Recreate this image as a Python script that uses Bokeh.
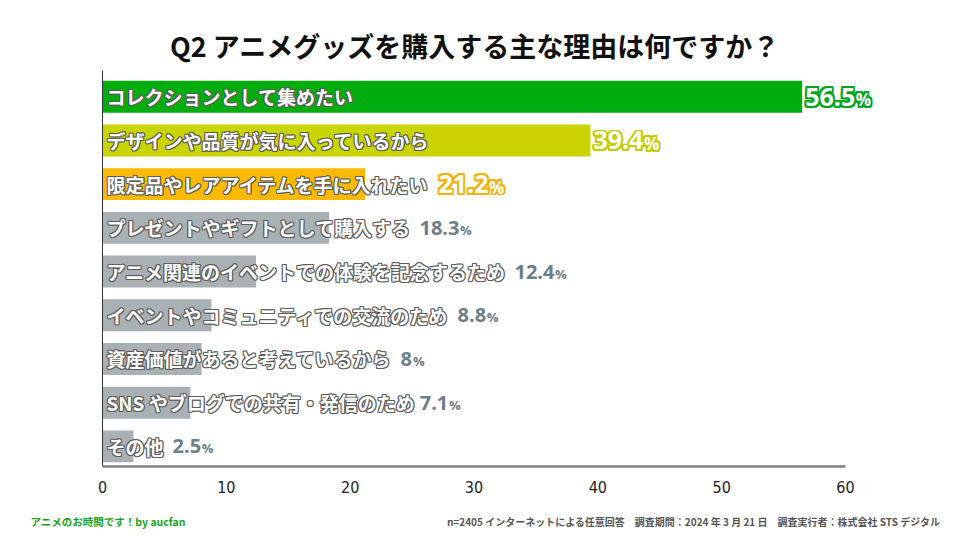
from bokeh.plotting import figure
from bokeh.layouts import column
from bokeh.models import ColumnDataSource, Range1d, FixedTicker, Span
from bokeh.core.properties import value
from bokeh.embed import file_html
from bokeh.resources import INLINE

# survey data, top to bottom
reasons = [
    "コレクションとして集めたい",
    "デザインや品質が気に入っているから",
    "限定品やレアアイテムを手に入れたい",
    "プレゼントやギフトとして購入する",
    "アニメ関連のイベントでの体験を記念するため",
    "イベントやコミュニティでの交流のため",
    "資産価値があると考えているから",
    "SNS やブログでの共有・発信のため",
    "その他",
]
shares = [56.5, 39.4, 21.2, 18.3, 12.4, 8.8, 8.0, 7.1, 2.5]
share_text = ["56.5", "39.4", "21.2", "18.3", "12.4", "8.8", "8", "7.1", "2.5"]
x_ticks = [0, 10, 20, 30, 40, 50, 60]

title = "Q2  アニメグッズを購入する主な理由は何ですか？"
footer_left = "アニメのお時間です！by aucfan"
footer_right = ("n=2405 インターネットによる任意回答　調査期間：2024 年 3 月 21 日　"
                "調査実行者：株式会社 STS デジタル")

# styles
bar_colors = ["#00ad0e", "#c9d400", "#fbba00"] + ["#aab1b4"] * 6
highlight = ["#00a51d", "#c2cc00", "#f3b20a"]
gray_value = "#6b7e89"
JP = "Noto Sans CJK JP"
NUM = "Open Sans"
TICKFONT = "'Liberation Sans Narrow', 'DejaVu Sans Condensed', Roboto, sans-serif"

W, H, FH = 955, 506, 30
ORIGIN = 102                    # pixel position of x = 0
TOP, BOTTOM = 70, 40
XMAX = 60
PPU = (845 - ORIGIN) / XMAX     # pixels per x unit

n = len(reasons)
ys = [n - 1 - i for i in range(n)]


def text_px(s, fs):
    w = 0.0
    for c in s:
        if ord(c) > 0x2000:
            w += fs
        elif c == " ":
            w += 0.3 * fs
        elif c == ".":
            w += 0.27 * fs
        else:
            w += 0.57 * fs
    return w


cat_fs = 19
big_fs, big_pct = 25, 17
small_fs, small_pct = 20, 13

label_x = []
num_w = []
for i in range(n):
    end_text = (4 + text_px(reasons[i], cat_fs)) / PPU
    if shares[i] >= end_text:
        lx = shares[i] + 3 / PPU
    else:
        lx = end_text + 9 / PPU
    label_x.append(lx)
    fs = big_fs if i < 3 else small_fs
    num_w.append(text_px(share_text[i], fs) + 1)

src = ColumnDataSource(dict(y=ys, right=shares, reason=reasons, color=bar_colors,
                            zero=[0] * n))

# frame spans the full width so that the footer strip lines up with it
p1 = figure(width=W, height=H,
            x_range=Range1d(-ORIGIN / PPU, (W - ORIGIN) / PPU),
            y_range=Range1d(-0.46, 8.6),
            output_backend="svg", toolbar_location=None,
            min_border_left=0, min_border_right=0,
            min_border_top=TOP, min_border_bottom=BOTTOM)
p1.outline_line_color = None
p1.xgrid.visible = False
p1.ygrid.visible = False
p1.yaxis.visible = False

p1.title.text = title
p1.title.align = "center"
p1.title.text_font = JP
p1.title.text_font_size = "27px"
p1.title.text_font_style = "bold"
p1.title.text_color = "#111111"
p1.title.standoff = 12

p1.xaxis.ticker = FixedTicker(ticks=x_ticks)
p1.xaxis.bounds = (0, XMAX)
p1.xaxis.axis_line_color = "#808080"
p1.xaxis.axis_line_width = 2.5
p1.xaxis.major_tick_line_color = None
p1.xaxis.minor_tick_line_color = None
p1.xaxis.major_label_text_font = TICKFONT
p1.xaxis.major_label_text_font_size = "16px"
p1.xaxis.major_label_text_color = "#222222"
p1.xaxis.major_label_standoff = 8

# vertical axis line at x = 0
p1.add_layout(Span(location=0, dimension="height", line_color="#333333", line_width=1))

p1.hbar(y="y", left=0, right="right", height=0.73, fill_color="color",
        line_color=None, source=src)

# outlined category labels
rings = [(-1, 0), (1, 0), (0, -1), (0, 1), (-1, -1), (1, 1), (-1, 1), (1, -1)]
for dx, dy in rings:
    p1.text(x="zero", y="y", text="reason", source=src, x_offset=4 + dx, y_offset=dy,
            text_font=value(JP), text_font_size=f"{cat_fs}px", text_font_style="bold",
            text_color="#5c5c5c", text_baseline="middle", text_align="left")
p1.text(x="zero", y="y", text="reason", source=src, x_offset=4,
        text_font=value(JP), text_font_size=f"{cat_fs}px", text_font_style="bold",
        text_color="white", text_baseline="middle", text_align="left")

# highlighted values (top three): white with coloured outline
for i in range(3):
    s = ColumnDataSource(dict(x=[label_x[i]], y=[ys[i]], num=[share_text[i]],
                              pct=["%"]))
    for r in (1.0, 1.8):
        for dx, dy in rings:
            p1.text(x="x", y="y", text="num", source=s, x_offset=dx * r, y_offset=dy * r,
                    text_font=value(NUM), text_font_size=f"{big_fs}px",
                    text_font_style="bold", text_color=highlight[i],
                    text_baseline="middle", text_align="left")
            p1.text(x="x", y="y", text="pct", source=s, x_offset=num_w[i] + dx * r,
                    y_offset=3 + dy * r,
                    text_font=value(NUM), text_font_size=f"{big_pct}px",
                    text_font_style="bold", text_color=highlight[i],
                    text_baseline="middle", text_align="left")
    p1.text(x="x", y="y", text="num", source=s,
            text_font=value(NUM), text_font_size=f"{big_fs}px",
            text_font_style="bold", text_color="white",
            text_baseline="middle", text_align="left")
    p1.text(x="x", y="y", text="pct", source=s, x_offset=num_w[i], y_offset=3,
            text_font=value(NUM), text_font_size=f"{big_pct}px",
            text_font_style="bold", text_color="white",
            text_baseline="middle", text_align="left")

# remaining values in gray
rest = ColumnDataSource(dict(x=label_x[3:], y=ys[3:], num=share_text[3:],
                             nw=num_w[3:], pct=["%"] * (n - 3)))
p1.text(x="x", y="y", text="num", source=rest,
        text_font=value(NUM), text_font_size=f"{small_fs}px", text_font_style="bold",
        text_color=gray_value, text_baseline="middle", text_align="left")
p1.text(x="x", y="y", text="pct", source=rest, x_offset="nw", y_offset=2,
        text_font=value(NUM), text_font_size=f"{small_pct}px", text_font_style="bold",
        text_color=gray_value, text_baseline="middle", text_align="left")

# footer strip
f = figure(width=W, height=FH, x_range=Range1d(0, W), y_range=Range1d(0, 1),
           output_backend="svg", toolbar_location=None,
           min_border=0, min_border_left=0, min_border_right=0,
           min_border_top=0, min_border_bottom=0)
f.axis.visible = False
f.grid.visible = False
f.outline_line_color = None
f.text(x=[30], y=[0.5], text=[footer_left], text_font=value(JP),
       text_font_size="10.5px", text_font_style="bold", text_color="#19a319",
       text_baseline="middle", text_align="left")
f.text(x=[940], y=[0.5], text=[footer_right], text_font=value(JP),
       text_font_size="10px", text_font_style="bold", text_color="#555555",
       text_baseline="middle", text_align="right")

p = column(p1, f)
open("out.html", "w").write(file_html(p, INLINE))
